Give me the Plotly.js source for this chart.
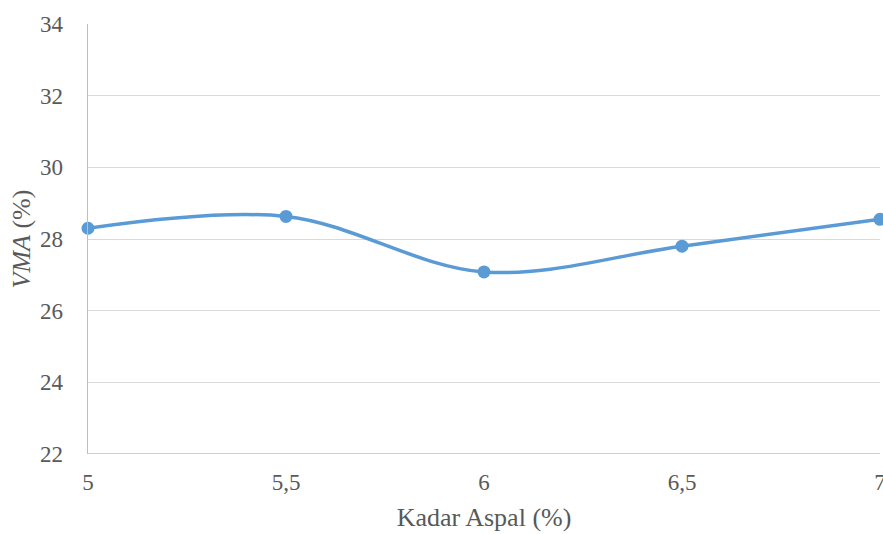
<!DOCTYPE html>
<html>
<head>
<meta charset="utf-8">
<script src="https://cdn.plot.ly/plotly-3.0.1.min.js"></script>
<style>
  html, body { margin: 0; padding: 0; background: #fff; }
  #chart { width: 883px; height: 534px; }
</style>
</head>
<body>
<div id="chart"></div>
<script>
// Asphalt content (%) and the measured VMA (%)
const kadarAspal = [5, 5.5, 6, 6.5, 7];
const vma = [28.3, 28.63, 27.08, 27.8, 28.55];
const xTickLabels = ["5", "5,5", "6", "6,5", "7"];
const yTicks = [22, 24, 26, 28, 30, 32, 34];

const serif = "Liberation Serif, Times New Roman, serif";
const textColor = "#595959";

const trace = {
  x: kadarAspal,
  y: vma,
  type: "scatter",
  mode: "lines+markers",
  line: { color: "#5B9BD5", width: 3.5, shape: "spline", smoothing: 1 },
  marker: { color: "#5B9BD5", size: 13 },
  cliponaxis: false,
  hoverinfo: "x+y"
};

const layout = {
  width: 883,
  height: 534,
  margin: { l: 88, r: 3, t: 24, b: 80 },
  paper_bgcolor: "#ffffff",
  plot_bgcolor: "#ffffff",
  showlegend: false,
  font: { family: serif, color: textColor, size: 24 },
  xaxis: {
    range: [5, 7],
    tickvals: kadarAspal,
    ticktext: xTickLabels,
    showgrid: false,
    zeroline: false,
    showline: false,
    ticks: "",
    ticklabelstandoff: 12,
    ticklabeloverflow: "allow",
    tickfont: { family: serif, size: 23, color: textColor },
    title: { text: "Kadar Aspal (%)", font: { family: serif, size: 26, color: textColor }, standoff: 13 }
  },
  yaxis: {
    range: [22, 34],
    tickvals: yTicks,
    showgrid: true,
    gridcolor: "#d9d9d9",
    gridwidth: 1,
    zeroline: false,
    showline: true,
    linecolor: "#bfbfbf",
    linewidth: 1.5,
    ticks: "",
    ticklabelstandoff: 19,
    tickfont: { family: serif, size: 23, color: textColor },
    title: { text: "<i>VMA</i> (%)", font: { family: serif, size: 26, color: textColor }, standoff: 2 }
  },
  shapes: [{
    type: "line", xref: "paper", yref: "y",
    x0: 0, x1: 1, y0: 22, y1: 22,
    line: { color: "#bfbfbf", width: 1.5 },
    layer: "below"
  }]
};

Plotly.newPlot("chart", [trace], layout, { displayModeBar: false, staticPlot: true });
</script>
</body>
</html>
